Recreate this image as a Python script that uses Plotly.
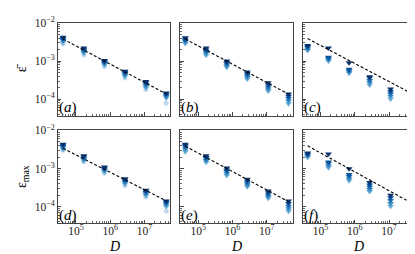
import plotly.graph_objects as go
from plotly.subplots import make_subplots

D = [4.2e4, 1.7e5, 6.8e5, 2.7e6, 1.1e7, 4.3e7]

# panel (a) mean error
a_s0 = [4.2e-3, 2.2e-3, 1.04e-3, 5.4e-4, 2.9e-4, 1.46e-4]
a_s1 = [4.0e-3, 2.05e-3, 9.8e-4, 5.1e-4, 2.7e-4, 1.38e-4]
a_s2 = [3.75e-3, 1.9e-3, 9.2e-4, 4.7e-4, 2.45e-4, 1.28e-4]
a_s3 = [3.45e-3, 1.75e-3, 8.5e-4, 4.35e-4, 2.2e-4, 1.18e-4]
a_s4 = [3.1e-3, 1.6e-3, 7.9e-4, 4.0e-4, 2.0e-4, 1.08e-4]
a_circ = [2.8e-3, 1.45e-3, 7.2e-4, 3.6e-4, 1.8e-4, 7.8e-5]
a_fit = [3.8e-3, 1.94e-3, 1.0e-3, 5.2e-4, 2.64e-4, 1.38e-4]

# panel (b)
b_s0 = [4.1e-3, 2.2e-3, 1.0e-3, 5.2e-4, 2.7e-4, 1.38e-4]
b_s1 = [3.8e-3, 1.95e-3, 9.2e-4, 4.7e-4, 2.4e-4, 1.2e-4]
b_s2 = [3.5e-3, 1.8e-3, 8.4e-4, 4.2e-4, 2.1e-4, 1.05e-4]
b_s3 = [3.2e-3, 1.6e-3, 7.6e-4, 3.8e-4, 1.85e-4, 9.0e-5]
b_s4 = [2.9e-3, 1.42e-3, 6.9e-4, 3.4e-4, 1.65e-4, 7.6e-5]
b_fit = [3.8e-3, 1.95e-3, 1.0e-3, 5.1e-4, 2.6e-4, 1.36e-4]

# panel (c)
c_s0 = [2.55e-3, 2.2e-3, 9.1e-4, 3.9e-4, 1.86e-4, 9.6e-5]
c_s1 = [2.4e-3, 1.27e-3, 6.1e-4, 3.6e-4, 1.6e-4, 8.2e-5]
c_s2 = [2.25e-3, 1.18e-3, 5.6e-4, 3.1e-4, 1.4e-4, 7.0e-5]
c_s3 = [2.05e-3, 1.08e-3, 5.2e-4, 2.7e-4, 1.2e-4, 5.8e-5]
c_s4 = [1.9e-3, 1.0e-3, 4.8e-4, 2.35e-4, 1.02e-4, 4.8e-5]
c_fit = [3.9e-3, 2.0e-3, 1.04e-3, 5.4e-4, 2.8e-4, 1.45e-4]

# panel (d) max error
d_s0 = [4.35e-3, 2.17e-3, 1.09e-3, 5.4e-4, 2.7e-4, 1.4e-4]
d_s1 = [4.1e-3, 2.05e-3, 1.02e-3, 5.0e-4, 2.55e-4, 1.32e-4]
d_s2 = [3.8e-3, 1.9e-3, 9.5e-4, 4.6e-4, 2.35e-4, 1.22e-4]
d_s3 = [3.5e-3, 1.75e-3, 8.8e-4, 4.3e-4, 2.15e-4, 1.12e-4]
d_s4 = [3.2e-3, 1.6e-3, 8.1e-4, 3.95e-4, 1.95e-4, 1.0e-4]
d_circ = [3.0e-3, 1.5e-3, 7.5e-4, 3.6e-4, 1.8e-4, 7.7e-5]
d_fit = [3.39e-3, 1.78e-3, 9.5e-4, 5.0e-4, 2.64e-4, 1.42e-4]

# panel (e)
e_s0 = [4.35e-3, 2.17e-3, 1.03e-3, 5.2e-4, 2.55e-4, 1.4e-4]
e_s1 = [4.0e-3, 1.95e-3, 9.2e-4, 4.6e-4, 2.3e-4, 1.2e-4]
e_s2 = [3.6e-3, 1.8e-3, 8.3e-4, 4.1e-4, 2.05e-4, 1.02e-4]
e_s3 = [3.15e-3, 1.62e-3, 7.4e-4, 3.7e-4, 1.85e-4, 8.8e-5]
e_s4 = [2.75e-3, 1.46e-3, 6.6e-4, 3.3e-4, 1.65e-4, 7.5e-5]
e_fit = [3.84e-3, 1.95e-3, 1.0e-3, 5.1e-4, 2.6e-4, 1.35e-4]

# panel (f)
f_s0 = [2.55e-3, 2.4e-3, 9.8e-4, 4.3e-4, 2.0e-4, 9.5e-5]
f_s1 = [2.4e-3, 1.49e-3, 7.0e-4, 3.7e-4, 1.7e-4, 8.0e-5]
f_s2 = [2.25e-3, 1.35e-3, 6.2e-4, 3.2e-4, 1.45e-4, 6.8e-5]
f_s3 = [2.1e-3, 1.18e-3, 5.4e-4, 2.8e-4, 1.2e-4, 5.7e-5]
f_s4 = [1.97e-3, 1.04e-3, 4.8e-4, 2.5e-4, 1.02e-4, 4.8e-5]
f_fit = [3.93e-3, 1.96e-3, 9.9e-4, 5.0e-4, 2.48e-4, 1.27e-4]

panel_labels = ["a", "b", "c", "d", "e", "f"]
x_tick_vals = [1e5, 1e6, 1e7]
x_tick_text = ["10<sup>5</sup>", "10<sup>6</sup>", "10<sup>7</sup>"]
y_tick_vals = [1e-4, 1e-3, 1e-2]
y_tick_text = ["10<sup>\u22124</sup>", "10<sup>\u22123</sup>", "10<sup>\u22122</sup>"]
row_titles = ["\u03b5\u0304", "\u03b5<sub>max</sub>"]
x_title = "<i>D</i>"

colors = ["#6baed6", "#4292c6", "#2171b5", "#08519c", "#08306b"]
circ_color = "#c0d9ee"

panels = [
    ([a_s0, a_s1, a_s2, a_s3, a_s4], a_circ, a_fit),
    ([b_s0, b_s1, b_s2, b_s3, b_s4], None, b_fit),
    ([c_s0, c_s1, c_s2, c_s3, c_s4], None, c_fit),
    ([d_s0, d_s1, d_s2, d_s3, d_s4], d_circ, d_fit),
    ([e_s0, e_s1, e_s2, e_s3, e_s4], None, e_fit),
    ([f_s0, f_s1, f_s2, f_s3, f_s4], None, f_fit),
]

FONT = "Liberation Serif, DejaVu Serif, serif"
fig = make_subplots(rows=2, cols=3, horizontal_spacing=10/358, vertical_spacing=15/203)

for i, (series, circ, fit) in enumerate(panels):
    r, c = i // 3 + 1, i % 3 + 1
    if circ is not None:
        fig.add_trace(go.Scatter(x=D, y=circ, mode="markers",
                                 marker=dict(symbol="circle", size=5, color=circ_color),
                                 showlegend=False), row=r, col=c)
    for k, s in enumerate(reversed(series)):
        fig.add_trace(go.Scatter(x=D, y=s, mode="markers",
                                 marker=dict(symbol="triangle-down", size=6, color=colors[k]),
                                 showlegend=False), row=r, col=c)
    fig.add_trace(go.Scatter(x=D, y=fit, mode="lines",
                             line=dict(color="black", width=1.1, dash="3px,2px"),
                             showlegend=False), row=r, col=c)
    sfx = "" if i == 0 else str(i + 1)
    fig.add_annotation(text="(<i>%s</i>)" % panel_labels[i], xref="x%s domain" % sfx,
                       yref="y%s domain" % sfx, x=-0.01, y=-0.03,
                       xanchor="left", yanchor="bottom", showarrow=False,
                       font=dict(family=FONT, size=15, color="black"))
    if r == 2:
        fig.add_annotation(text=x_title, xref="x%s domain" % sfx, yref="paper",
                           x=0.5, y=-24/203, xanchor="center", yanchor="middle",
                           showarrow=False, borderpad=0,
                           font=dict(family=FONT, size=14, color="black"))

minor_x = [m * 10 ** e for e in range(4, 8) for m in range(2, 10)]
minor_y = [m * 10 ** e for e in range(-5, -2) for m in range(2, 10)]

for i in range(6):
    r, c = i // 3 + 1, i % 3 + 1
    fig.update_xaxes(type="log", range=[4.478, 7.754], showline=True, mirror=True,
                     linecolor="#444", linewidth=0.8, showgrid=False, zeroline=False,
                     ticks="inside", ticklen=3.5, tickwidth=0.7, tickcolor="#444",
                     tickvals=x_tick_vals, ticktext=x_tick_text,
                     showticklabels=(r == 2), ticklabelstandoff=-3,
                     tickfont=dict(family=FONT, size=11.5, color="#222"),
                     minor=dict(ticks="inside", ticklen=2, tickwidth=0.5, tickcolor="#666",
                                tickvals=minor_x, showgrid=False),
                     row=r, col=c)
    fig.update_yaxes(type="log", range=[-4.43, -2.0], showline=True, mirror=True,
                     linecolor="#444", linewidth=0.8, showgrid=False, zeroline=False,
                     ticks="inside", ticklen=3.5, tickwidth=0.7, tickcolor="#444",
                     tickvals=y_tick_vals, ticktext=y_tick_text,
                     showticklabels=(c == 1),
                     tickfont=dict(family=FONT, size=11.5, color="#222"),
                     minor=dict(ticks="inside", ticklen=2, tickwidth=0.5, tickcolor="#666",
                                tickvals=minor_y, showgrid=False),
                     title=dict(text=row_titles[r - 1] if c == 1 else "", standoff=4,
                                font=dict(family=FONT, size=14, color="black")),
                     row=r, col=c)

fig.update_layout(width=415, height=254, margin=dict(l=50, r=7, t=12, b=39),
                  plot_bgcolor="white", paper_bgcolor="white", showlegend=False)
fig.write_html("out.html")
